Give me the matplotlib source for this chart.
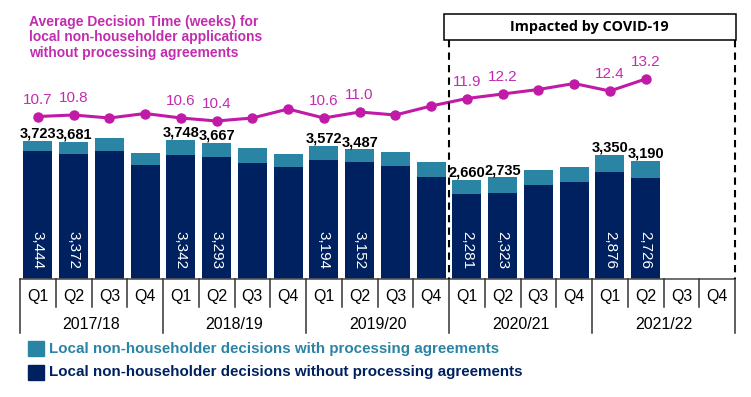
import matplotlib
matplotlib.use("Agg")
import matplotlib.pyplot as plt
from matplotlib.lines import Line2D
from matplotlib.patches import Rectangle

years = ["2017/18", "2018/19", "2019/20", "2020/21", "2021/22"]
quarters = ["Q1", "Q2", "Q3", "Q4"]
total = [3723, 3681, 3795, 3392, 3748, 3667, 3518, 3365, 3572, 3487, 3418, 3141,
         2660, 2735, 2934, 3015, 3350, 3190, None, None]
without_pa = [3444, 3372, 3445, 3069, 3342, 3293, 3131, 3023, 3194, 3152, 3050, 2754,
              2281, 2323, 2530, 2611, 2876, 2726, None, None]
avg_weeks = [10.7, 10.8, 10.6, 10.9, 10.6, 10.4, 10.6, 11.2, 10.6, 11.0, 10.8, 11.4,
             11.9, 12.2, 12.5, 12.9, 12.4, 13.2, None, None]
total_labelled = [0, 1, 4, 5, 8, 9, 12, 13, 16, 17]
avg_labelled = [0, 1, 4, 5, 8, 9, 12, 13, 16, 17]
inner_labelled = [0, 1, 4, 5, 8, 9, 12, 13, 16, 17]

NAVY = "#00215F"
TEAL = "#2A84A4"
MAG = "#C01AA6"
MAG_TXT = "#C22DB0"

W, H = 751, 397
fig = plt.figure(figsize=(W / 100, H / 100), dpi=100)

def fx(px):
    return px / W

def fy(py):
    return 1 - py / H

ax_l, ax_r, ax_t, ax_b = 20, 735, 19, 279
ax = fig.add_axes([fx(ax_l), fy(ax_b), fx(ax_r - ax_l), (ax_b - ax_t) / H])
ax.set_xlim(-0.5, 19.5)
ax.set_ylim(0, 7000)
ax.axis("off")

n = len(total)
xs = list(range(n))
for i in xs:
    if total[i] is None:
        continue
    ax.bar(i, without_pa[i], width=0.81, color=NAVY, zorder=2)
    ax.bar(i, total[i] - without_pa[i], bottom=without_pa[i], width=0.81, color=TEAL, zorder=2)

for i in total_labelled:
    ax.text(i, total[i] + 10, f"{total[i]:,}", ha="center", va="bottom",
            fontsize=10.5, fontweight="bold", family="Liberation Sans", color="black", zorder=4)
for i in inner_labelled:
    ax.text(i, 780, f"{without_pa[i]:,}", ha="center", va="center", rotation=270,
            fontsize=11, family="Liberation Sans", color="white", zorder=4)

ax2 = ax.twinx()
ax2.set_position(ax.get_position())
ax2.set_ylim(-0.133, 17.2)
ax2.set_xlim(-0.5, 19.5)
ax2.axis("off")
lx = [i for i in xs if avg_weeks[i] is not None]
ly = [avg_weeks[i] for i in lx]
ax2.plot(lx, ly, color=MAG, lw=2.2, marker="o", ms=6.5, zorder=5)
for i in avg_labelled:
    ax2.annotate(f"{avg_weeks[i]:.1f}", (i, avg_weeks[i]), xytext=(0, 7),
                 textcoords="offset points", ha="center", va="bottom",
                 fontsize=11, family="Liberation Sans", color=MAG_TXT)

# category axis drawn in pixel space
ov = fig.add_axes([0, 0, 1, 1])
ov.set_xlim(0, W)
ov.set_ylim(H, 0)
ov.axis("off")
ov.patch.set_alpha(0)
slot = (ax_r - ax_l) / n
ov.add_line(Line2D([ax_l, ax_r], [ax_b, ax_b], color="#555555", lw=1.2))
for k in range(n + 1):
    x = ax_l + k * slot
    if k % 4 == 0:
        ov.add_line(Line2D([x, x], [ax_b, 333], color="#333333", lw=1.1))
    else:
        ov.add_line(Line2D([x, x], [ax_b, 306.5], color="#333333", lw=1.1))
for k in range(n):
    ov.text(ax_l + (k + 0.5) * slot, 297, quarters[k % 4], ha="center", va="center",
            fontsize=11.5, family="Liberation Sans", color="black")
for j, yr in enumerate(years):
    ov.text(ax_l + (j * 4 + 2) * slot, 324.5, yr, ha="center", va="center",
            fontsize=11.5, family="Liberation Sans", color="black")

# COVID box and dashed lines
xd = ax_l + 12 * slot
ov.add_line(Line2D([xd, xd], [40, ax_b], color="black", lw=1.5, ls=(0, (3.5, 2.5))))
ov.add_line(Line2D([ax_r, ax_r], [40, ax_b], color="black", lw=1.5, ls=(0, (3.5, 2.5))))
ov.add_patch(Rectangle((443.5, 13.5), 735.5 - 443.5, 26.5, fill=False, ec="black", lw=1.1))
ov.text(589.5, 27, "Impacted by COVID-19", ha="center", va="center", fontsize=10.4,
        fontweight="bold", family="Open Sans", color="black")

# title
ov.text(29, 15, "Average Decision Time (weeks) for\nlocal non-householder applications\nwithout processing agreements",
        ha="left", va="top", fontsize=10, fontweight="bold", family="Liberation Sans",
        color=MAG_TXT, linespacing=1.12)

# legend
ov.add_patch(Rectangle((28, 341), 16, 15, color=TEAL))
ov.add_patch(Rectangle((28, 365), 16, 15, color=NAVY))
ov.text(49, 348.5, "Local non-householder decisions with processing agreements", ha="left",
        va="center", fontsize=10.9, fontweight="bold", family="Liberation Sans", color=TEAL)
ov.text(49, 372, "Local non-householder decisions without processing agreements", ha="left",
        va="center", fontsize=10.9, fontweight="bold", family="Liberation Sans", color=NAVY)

fig.savefig("out.png", dpi=100)
